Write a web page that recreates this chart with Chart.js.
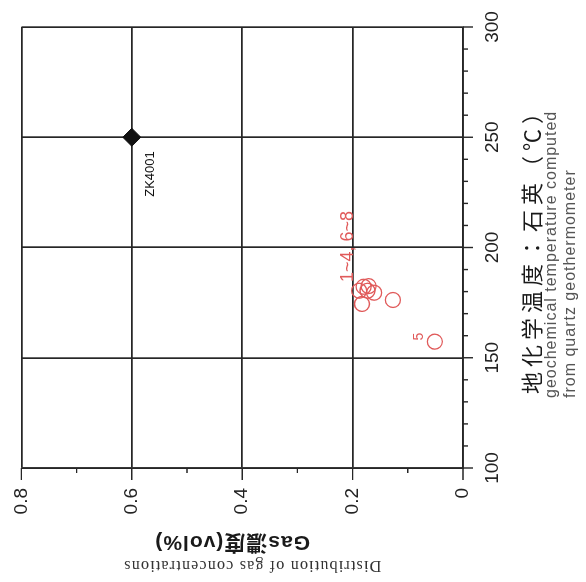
<!DOCTYPE html>
<html lang="ja">
<head>
  <meta charset="UTF-8" />
  <title>Gas濃度 - 地化学温度</title>
  <script src="https://cdn.jsdelivr.net/npm/chart.js"></script>
  <style>
    html, body {
      margin: 0;
      padding: 0;
      background: #ffffff;
      overflow: hidden;
      width: 586px;
      height: 582px;
    }
    /* the figure is printed turned a quarter turn to the left */
    .turned {
      position: absolute;
      left: 2px;
      top: -2px;
      width: 582px;
      height: 586px;
      transform: rotate(-90deg);
    }
  </style>
</head>
<body>
  <div class="turned">
    <canvas id="gasChart" width="582" height="586"></canvas>
  </div>

  <script>
    // ZK4001 borehole
    const zkNames = ['ZK4001'];
    const zkTemp = [250];
    const zkGas = [0.6];

    // samples 1~4, 6~8
    const groupTemp = [180.4, 182.2, 182.5, 179.5, 174.4, 176.2, 180.4];
    const groupGas = [0.188, 0.180, 0.171, 0.161, 0.183, 0.127, 0.173];

    // sample 5
    const s5Temp = [157.3];
    const s5Gas = [0.051];

    const tempMin = 100, tempMax = 300, tempStep = 10, tempMajor = 50;
    const gasMin = 0, gasMax = 0.8, gasStep = 0.1;

    const lineColor = '#262626';
    const red = '#e05a5a';

    const toPoints = (xs, ys) => xs.map((x, i) => ({ x, y: ys[i] }));
    const isMajorTemp = v => Math.round(v) % tempMajor === 0;
    const isMajorGas = v => Math.round(v * 10) % 2 === 0;

    // tick marks outside the frame, long ones for the labelled values
    const tickMarks = {
      id: 'tickMarks',
      afterDraw(chart) {
        const { ctx, chartArea, scales } = chart;
        ctx.save();
        ctx.strokeStyle = lineColor;
        ctx.lineWidth = 1.4;
        ctx.beginPath();
        scales.x.ticks.forEach(t => {
          const px = scales.x.getPixelForValue(t.value);
          const len = isMajorTemp(t.value) ? 10 : 5;
          ctx.moveTo(px, chartArea.bottom);
          ctx.lineTo(px, chartArea.bottom + len);
        });
        scales.y.ticks.forEach(t => {
          const py = scales.y.getPixelForValue(t.value);
          const len = isMajorGas(t.value) ? 12 : 5;
          ctx.moveTo(chartArea.left, py);
          ctx.lineTo(chartArea.left - len, py);
        });
        ctx.stroke();
        ctx.restore();
      }
    };

    // axis titles and point labels
    const texts = {
      id: 'texts',
      afterDraw(chart) {
        const { ctx, chartArea } = chart;
        const midY = (chartArea.top + chartArea.bottom) / 2;
        ctx.save();

        // left titles (turned)
        ctx.fillStyle = '#1a1a1a';
        ctx.textAlign = 'center';
        ctx.textBaseline = 'middle';
        ctx.save();
        ctx.translate(chartArea.left - 74, midY - 10);
        ctx.rotate(-Math.PI / 2);
        ctx.font = 'bold 21px "Liberation Sans", "Noto Sans CJK JP", sans-serif';
        ctx.letterSpacing = '1px';
        ctx.fillText('Gas濃度(vol%)', 0, 0);
        ctx.restore();

        ctx.save();
        ctx.translate(chartArea.left - 97, midY + 10);
        ctx.rotate(-Math.PI / 2);
        ctx.fillStyle = '#333';
        ctx.font = '16px "Liberation Serif", serif';
        ctx.letterSpacing = '1.2px';
        ctx.fillText('Distribution of gas concentrations', 0, 0);
        ctx.restore();

        // bottom titles
        ctx.textAlign = 'left';
        ctx.fillStyle = '#1a1a1a';
        ctx.font = '22px "Noto Sans CJK JP", sans-serif';
        ctx.letterSpacing = '5px';
        ctx.fillText('地化学温度：石英（℃）', chartArea.left + 74, chartArea.bottom + 69);
        ctx.fillStyle = '#555';
        ctx.font = '16px "Liberation Sans", sans-serif';
        ctx.letterSpacing = '1px';
        ctx.fillText('geochemical temperature computed', chartArea.left + 70, chartArea.bottom + 89);
        ctx.fillText('from quartz geothermometer', chartArea.left + 70, chartArea.bottom + 108);

        // point labels
        ctx.letterSpacing = '0px';
        const zk = chart.getDatasetMeta(0).data[0];
        ctx.fillStyle = '#111';
        ctx.font = '13px "Liberation Sans", sans-serif';
        ctx.textAlign = 'right';
        ctx.fillText(zkNames[0], zk.x - 14, zk.y + 19);

        const g = chart.getDatasetMeta(1).data[2];
        ctx.fillStyle = red;
        ctx.font = '18px "Liberation Sans", sans-serif';
        ctx.textAlign = 'left';
        ctx.fillText('1~4, 6~8', g.x + 4, g.y - 21);

        const p5 = chart.getDatasetMeta(2).data[0];
        ctx.font = '14px "Liberation Sans", sans-serif';
        ctx.textAlign = 'center';
        ctx.fillText('5', p5.x + 5, p5.y - 16);

        ctx.restore();
      }
    };

    const tickFont = { family: '"Liberation Sans", Arial, sans-serif', size: 19 };

    new Chart(document.getElementById('gasChart').getContext('2d'), {
      type: 'scatter',
      data: {
        datasets: [
          {
            label: 'ZK4001',
            data: toPoints(zkTemp, zkGas),
            pointStyle: 'rectRot',
            radius: 9,
            backgroundColor: '#111',
            borderColor: '#111',
            borderWidth: 1
          },
          {
            label: '1~4, 6~8',
            data: toPoints(groupTemp, groupGas),
            pointStyle: 'circle',
            radius: 7.5,
            backgroundColor: 'rgba(0,0,0,0)',
            borderColor: red,
            borderWidth: 1.3
          },
          {
            label: '5',
            data: toPoints(s5Temp, s5Gas),
            pointStyle: 'circle',
            radius: 7.5,
            backgroundColor: 'rgba(0,0,0,0)',
            borderColor: red,
            borderWidth: 1.3
          }
        ]
      },
      options: {
        responsive: false,
        animation: false,
        layout: { padding: { top: 18, right: 27, left: 0, bottom: 0 } },
        plugins: {
          legend: { display: false },
          tooltip: { enabled: false }
        },
        scales: {
          x: {
            type: 'linear',
            position: 'bottom',
            min: tempMin,
            max: tempMax,
            afterFit: s => { s.height = 123; },
            ticks: {
              stepSize: tempStep,
              autoSkip: false,
              maxRotation: 0,
              padding: 8,
              color: '#222',
              font: tickFont,
              callback: v => isMajorTemp(v) ? String(v) : ''
            },
            grid: {
              color: c => isMajorTemp(c.tick.value) ? lineColor : 'rgba(0,0,0,0)',
              lineWidth: 1.7,
              tickLength: 10,
              tickColor: 'rgba(0,0,0,0)'
            },
            border: { display: true, color: lineColor, width: 1.7 }
          },
          y: {
            type: 'linear',
            min: gasMin,
            max: gasMax,
            afterFit: s => { s.width = 114; },
            ticks: {
              stepSize: gasStep,
              autoSkip: false,
              padding: 10,
              color: '#222',
              font: tickFont,
              callback: v => {
                const k = Math.round(v * 10);
                if (k % 2 !== 0) return '';
                return k === 0 ? '0' : (k / 10).toFixed(1);
              }
            },
            grid: {
              color: c => isMajorGas(c.tick.value) ? lineColor : 'rgba(0,0,0,0)',
              lineWidth: 1.7,
              tickLength: 10,
              tickColor: 'rgba(0,0,0,0)'
            },
            border: { display: true, color: lineColor, width: 1.7 }
          }
        }
      },
      plugins: [tickMarks, texts]
    });
  </script>
</body>
</html>
